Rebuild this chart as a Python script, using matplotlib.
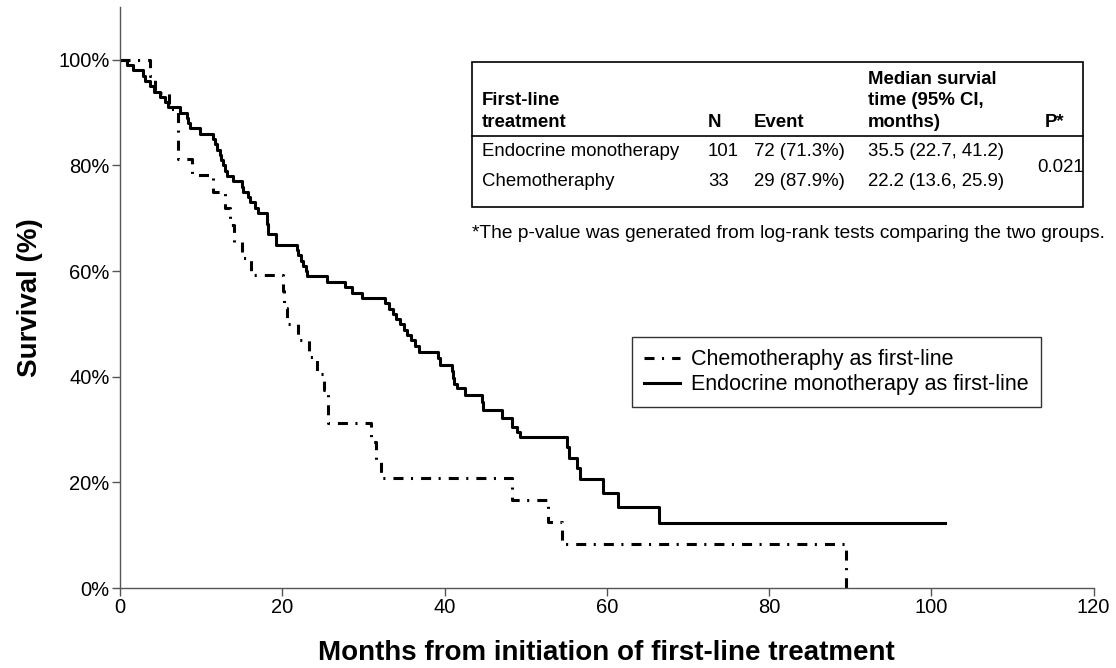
import numpy as np
import matplotlib.pyplot as plt
from matplotlib.patches import Rectangle

plt.rcParams['font.family'] = ['Liberation Sans', 'DejaVu Sans']
plt.rcParams['lines.scale_dashes'] = False

# Kaplan-Meier steps (months, survival %)
endo_t = [0, 0.9, 1.6, 2.8, 3.1, 3.7, 4.2, 4.9, 5.5, 5.9, 7.4, 8.2, 8.4, 8.6, 9.9,
          11.5, 11.7, 11.9, 12.3, 12.5, 12.7, 12.9, 13.2, 13.9, 15.0, 15.2, 15.8,
          16.0, 16.6, 17.0, 18.1, 18.15, 18.2, 18.25, 19.2, 19.25, 21.8, 22.0, 22.3,
          22.6, 22.9, 23.1, 25.5, 27.7, 28.6, 29.8, 32.7, 33.2, 33.6, 34.0, 34.5,
          35.0, 35.4, 35.9, 36.4, 36.8, 39.2, 39.4, 40.9, 41.0, 41.2, 41.5, 42.5,
          44.6, 44.8, 47.1, 48.3, 48.9, 49.3, 55.1, 55.3, 56.3, 56.7, 59.5, 61.4,
          66.5, 101.7]
endo_s = [100, 99.0, 98.0, 97.0, 96.0, 95.0, 94.0, 93.0, 92.0, 91.0, 90.0, 89.0, 88.0,
          87.0, 86.0, 85.0, 84.0, 83.0, 82.0, 81.0, 80.0, 79.0, 78.0, 77.0, 76.0,
          75.0, 74.0, 73.0, 72.0, 71.0, 70.0, 69.0, 68.0, 67.0, 66.0, 65.0, 64.0,
          63.0, 62.0, 61.0, 60.0, 59.1, 58.0, 57.0, 55.9, 54.9, 53.9, 52.9, 51.9,
          50.9, 49.9, 48.9, 47.9, 46.9, 45.9, 44.7, 43.5, 42.2, 41.0, 39.8, 38.6,
          37.9, 36.6, 35.2, 33.7, 32.2, 30.5, 29.5, 28.6, 26.7, 24.6, 22.7, 20.6,
          18.0, 15.4, 12.3, 12.3]

chemo_t = [0, 3.7, 4.3, 6.0, 7.2, 8.9, 11.5, 12.9, 13.6, 14.0, 15.0, 16.2, 20.1, 20.2,
           20.6, 21.9, 23.3, 24.3, 25.2, 25.6, 25.7, 30.9, 31.6, 32.2, 48.3, 52.8,
           54.5, 89.5]
chemo_s = [100, 96.9, 93.8, 90.6, 81.25, 78.1, 75.0, 71.9, 68.7, 65.6, 62.5, 59.3, 56.2,
           53.1, 50.0, 46.9, 43.7, 40.6, 37.5, 34.4, 31.25, 27.7, 24.2, 20.8, 16.7,
           12.5, 8.3, 0]

xticks = [0, 20, 40, 60, 80, 100, 120]
yticks = [0, 20, 40, 60, 80, 100]

tbl_header_col1 = 'First-line\ntreatment'
tbl_header = ['N', 'Event', 'Median survial\ntime (95% CI,\nmonths)', 'P*']
tbl_rows = [['Endocrine monotherapy', '101', '72 (71.3%)', '35.5 (22.7, 41.2)'],
            ['Chemotheraphy', '33', '29 (87.9%)', '22.2 (13.6, 25.9)']]
p_value = '0.021'
footnote = '*The p-value was generated from log-rank tests comparing the two groups.'

W, H = 1116, 668
fig = plt.figure(figsize=(W / 100, H / 100), dpi=100)


def fx(x):
    return x / W


def fy(y):
    return 1 - y / H


ax = fig.add_axes([fx(120), fy(588), (1093.5 - 120) / W, (588 - 7) / H])

ax.step(chemo_t, chemo_s, where='post', color='black', lw=2.2,
        linestyle=(0, (7.2, 5.4, 1.5, 5.8)), dash_capstyle='butt',
        label='Chemotheraphy as first-line')
ax.step(endo_t, endo_s, where='post', color='black', lw=2.2,
        label='Endocrine monotherapy as first-line')

ax.set_xlim(0, 120)
ax.set_ylim(0, 110)
ax.set_xticks(xticks)
ax.set_yticks(yticks)
ax.set_yticklabels([f'{v}%' for v in yticks])
for s in ['top', 'right']:
    ax.spines[s].set_visible(False)
for s in ['left', 'bottom']:
    ax.spines[s].set_color('#555555')
    ax.spines[s].set_linewidth(1.0)
ax.tick_params(length=6, width=1.0, color='#555555', labelsize=14.5, pad=1.5)

ax.set_xlabel('Months from initiation of first-line treatment', fontsize=20,
              fontweight='bold', labelpad=16)
ax.set_ylabel('Survival (%)', fontsize=20, fontweight='bold', labelpad=11)

leg = ax.legend(loc='upper left', bbox_to_anchor=((632 - 120) / 973.5, (588 - 337) / 581),
                fontsize=15.5, frameon=True, fancybox=False, borderaxespad=0,
                handlelength=1.65, handletextpad=0.55, labelspacing=0.19,
                borderpad=0.56)
leg.get_frame().set_edgecolor('black')
leg.get_frame().set_linewidth(1.0)

# summary table
fig.patches.append(Rectangle((fx(472), fy(207)), fx(1083) - fx(472), fy(62) - fy(207),
                             transform=fig.transFigure, fill=False, ec='black', lw=1.2))
fig.add_artist(plt.Line2D([fx(472), fx(1083)], [fy(136), fy(136)],
                          transform=fig.transFigure, color='black', lw=1.2))
fs = 13.4
fig.text(fx(482), fy(127), tbl_header_col1, fontsize=fs, fontweight='bold',
         va='baseline', linespacing=1.35)
col_x = [708, 754, 868, 1045]
for x, h in zip(col_x, tbl_header):
    fig.text(fx(x), fy(127), h, fontsize=fs, fontweight='bold', va='baseline',
             linespacing=1.35)
row_y = [152, 182]
for y, row in zip(row_y, tbl_rows):
    for x, v in zip([482] + col_x[:3], row):
        fig.text(fx(x), fy(y), v, fontsize=fs, va='center')
fig.text(fx(1037), fy(168), p_value, fontsize=fs, va='center')
fig.text(fx(472), fy(233), footnote, fontsize=13.75, va='center')

fig.savefig('out.png', dpi=100)
